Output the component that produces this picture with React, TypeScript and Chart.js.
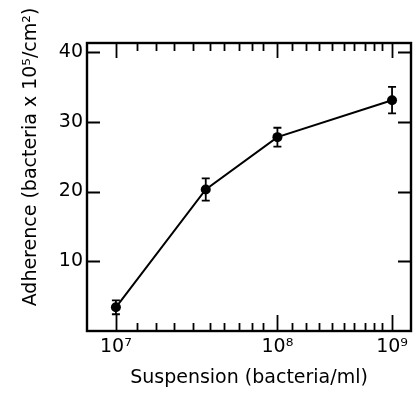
import React, { useEffect, useRef } from 'react';
import { Chart, registerables, LogarithmicScale } from 'chart.js';

Chart.register(...registerables);

// ---- data ----
const xValues = [1e7, 3.6e7, 1e8, 1e9];
const yValues = [3.4, 20.3, 27.8, 33.1];
const yErrors = [1.0, 1.6, 1.35, 1.9];

const xMajorTicks = [1e7, 1e8, 1e9];
const xTickLabels = ['10⁷', '10⁸', '10⁹'];
const xMinorFractions = [0.13, 0.25, 0.36, 0.48, 0.58, 0.67, 0.76, 0.84, 0.91];
const yTicks = [10, 20, 30, 40];
const yTickLabels = ['10', '20', '30', '40'];
const xTitle = 'Suspension (bacteria/ml)';
const yTitle = 'Adherence (bacteria x 10⁵/cm²)';

// hand-drawn axis: decades are not equally long
const warpLogs = [6.82, 7, 8, 9, 9.165];
const warpFracs = [0, 0.0892, 0.5877, 0.9415, 1];

function interp(x: number, xs: number[], ys: number[]) {
  let i = 0;
  if (x <= xs[0]) i = 0;
  else if (x >= xs[xs.length - 1]) i = xs.length - 2;
  else {
    while (i < xs.length - 2 && x > xs[i + 1]) i++;
  }
  const t = (x - xs[i]) / (xs[i + 1] - xs[i]);
  return ys[i] + t * (ys[i + 1] - ys[i]);
}

class WarpedLogScale extends LogarithmicScale {
  static id = 'warpedLog';
  static defaults = { ...(LogarithmicScale as any).defaults };
  getPixelForValue(value: number) {
    if (value === undefined || value === null || isNaN(value) || value <= 0) return NaN;
    return (this as any).getPixelForDecimal(interp(Math.log10(value), warpLogs, warpFracs));
  }
  getValueForPixel(pixel: number) {
    const d = (this as any).getDecimalForPixel(pixel);
    return Math.pow(10, interp(d, warpFracs, warpLogs));
  }
}
Chart.register(WarpedLogScale as any);

const FONT = "'DejaVu Sans', sans-serif";

const decorPlugin = {
  id: 'decor',
  beforeDatasetsDraw(chart: any) {
    const { ctx, scales } = chart;
    const x = scales.x, y = scales.y;
    ctx.save();
    ctx.strokeStyle = '#000';
    ctx.lineWidth = 1.8;
    xValues.forEach((xv, i) => {
      const px = x.getPixelForValue(xv);
      const top = y.getPixelForValue(yValues[i] + yErrors[i]);
      const bot = y.getPixelForValue(yValues[i] - yErrors[i]);
      ctx.beginPath();
      ctx.moveTo(px, top); ctx.lineTo(px, bot);
      ctx.moveTo(px - 4, top); ctx.lineTo(px + 4, top);
      ctx.moveTo(px - 4, bot); ctx.lineTo(px + 4, bot);
      ctx.stroke();
    });
    ctx.restore();
  },
  afterDraw(chart: any) {
    const { ctx, chartArea: a, scales } = chart;
    const x = scales.x, y = scales.y;
    ctx.save();
    ctx.strokeStyle = '#000';
    ctx.lineWidth = 2.4;
    ctx.strokeRect(a.left, a.top, a.right - a.left, a.bottom - a.top);
    ctx.lineWidth = 1.8;
    ctx.beginPath();
    // y ticks left and right
    yTicks.forEach((v) => {
      const py = Math.round(y.getPixelForValue(v)) + 0.5;
      ctx.moveTo(a.left, py); ctx.lineTo(a.left + 13, py);
      ctx.moveTo(a.right - 13, py); ctx.lineTo(a.right, py);
    });
    // x major ticks bottom and top
    xMajorTicks.forEach((v) => {
      const px = Math.round(x.getPixelForValue(v)) + 0.5;
      ctx.moveTo(px, a.bottom); ctx.lineTo(px, a.bottom - 16);
      ctx.moveTo(px, a.top); ctx.lineTo(px, a.top + 15);
    });
    // x minor ticks
    for (let d = 0; d < xMajorTicks.length - 1; d++) {
      const base = Math.log10(xMajorTicks[d]);
      xMinorFractions.forEach((f) => {
        const px = Math.round(x.getPixelForValue(Math.pow(10, base + f))) + 0.5;
        ctx.moveTo(px, a.bottom); ctx.lineTo(px, a.bottom - 8);
        ctx.moveTo(px, a.top); ctx.lineTo(px, a.top + 8);
      });
    }
    ctx.stroke();
    // y title
    ctx.fillStyle = '#000';
    ctx.font = `19px ${FONT}`;
    ctx.textAlign = 'center';
    ctx.textBaseline = 'middle';
    ctx.translate(31, 157);
    ctx.rotate(-Math.PI / 2);
    ctx.fillText(yTitle, 0, 0);
    ctx.restore();
  },
};

export default function App() {
  const ref = useRef<HTMLCanvasElement | null>(null);
  useEffect(() => {
    if (!ref.current) return;
    const chart = new Chart(ref.current, {
      type: 'line',
      data: {
        datasets: [
          {
            data: xValues.map((xv, i) => ({ x: xv, y: yValues[i] })),
            borderColor: '#000',
            backgroundColor: '#000',
            borderWidth: 2,
            pointRadius: 5,
            pointHoverRadius: 5,
            pointBackgroundColor: '#000',
            pointBorderWidth: 0,
            tension: 0,
          },
        ],
      },
      options: {
        animation: false,
        responsive: false,
        events: [],
        layout: { padding: { top: 43, right: 4, left: 0, bottom: 0 } },
        plugins: { legend: { display: false }, tooltip: { enabled: false } },
        scales: {
          x: {
            type: 'warpedLog' as any,
            min: Math.pow(10, 6.82),
            max: Math.pow(10, 9.165),
            border: { display: false },
            grid: { display: false, drawTicks: false },
            afterBuildTicks: (s: any) => {
              s.ticks = xMajorTicks.map((v) => ({ value: v }));
            },
            afterFit: (s: any) => {
              s.height = 63;
            },
            ticks: {
              autoSkip: false,
              maxRotation: 0,
              padding: 5,
              color: '#000',
              font: { family: FONT, size: 19 },
              callback: (v: any) => {
                const i = xMajorTicks.indexOf(Number(v));
                return i >= 0 ? xTickLabels[i] : '';
              },
            },
            title: {
              display: true,
              text: xTitle,
              color: '#000',
              font: { family: FONT, size: 19 },
              padding: { top: 0, bottom: 5 },
            },
          },
          y: {
            type: 'linear',
            min: 0,
            max: 41.3,
            border: { display: false },
            grid: { display: false, drawTicks: false },
            afterBuildTicks: (s: any) => {
              s.ticks = yTicks.map((v) => ({ value: v }));
            },
            afterFit: (s: any) => {
              s.width = 87;
            },
            ticks: {
              padding: 4,
              color: '#000',
              font: { family: FONT, size: 19 },
              callback: (v: any) => {
                const i = yTicks.indexOf(Number(v));
                return i >= 0 ? yTickLabels[i] : '';
              },
            },
          },
        },
      },
      plugins: [decorPlugin],
    } as any);
    return () => chart.destroy();
  }, []);
  return (
    <canvas
      ref={ref}
      width={416}
      height={394}
      style={{ position: 'absolute', left: 0, top: 0, width: 416, height: 394 }}
    />
  );
}
